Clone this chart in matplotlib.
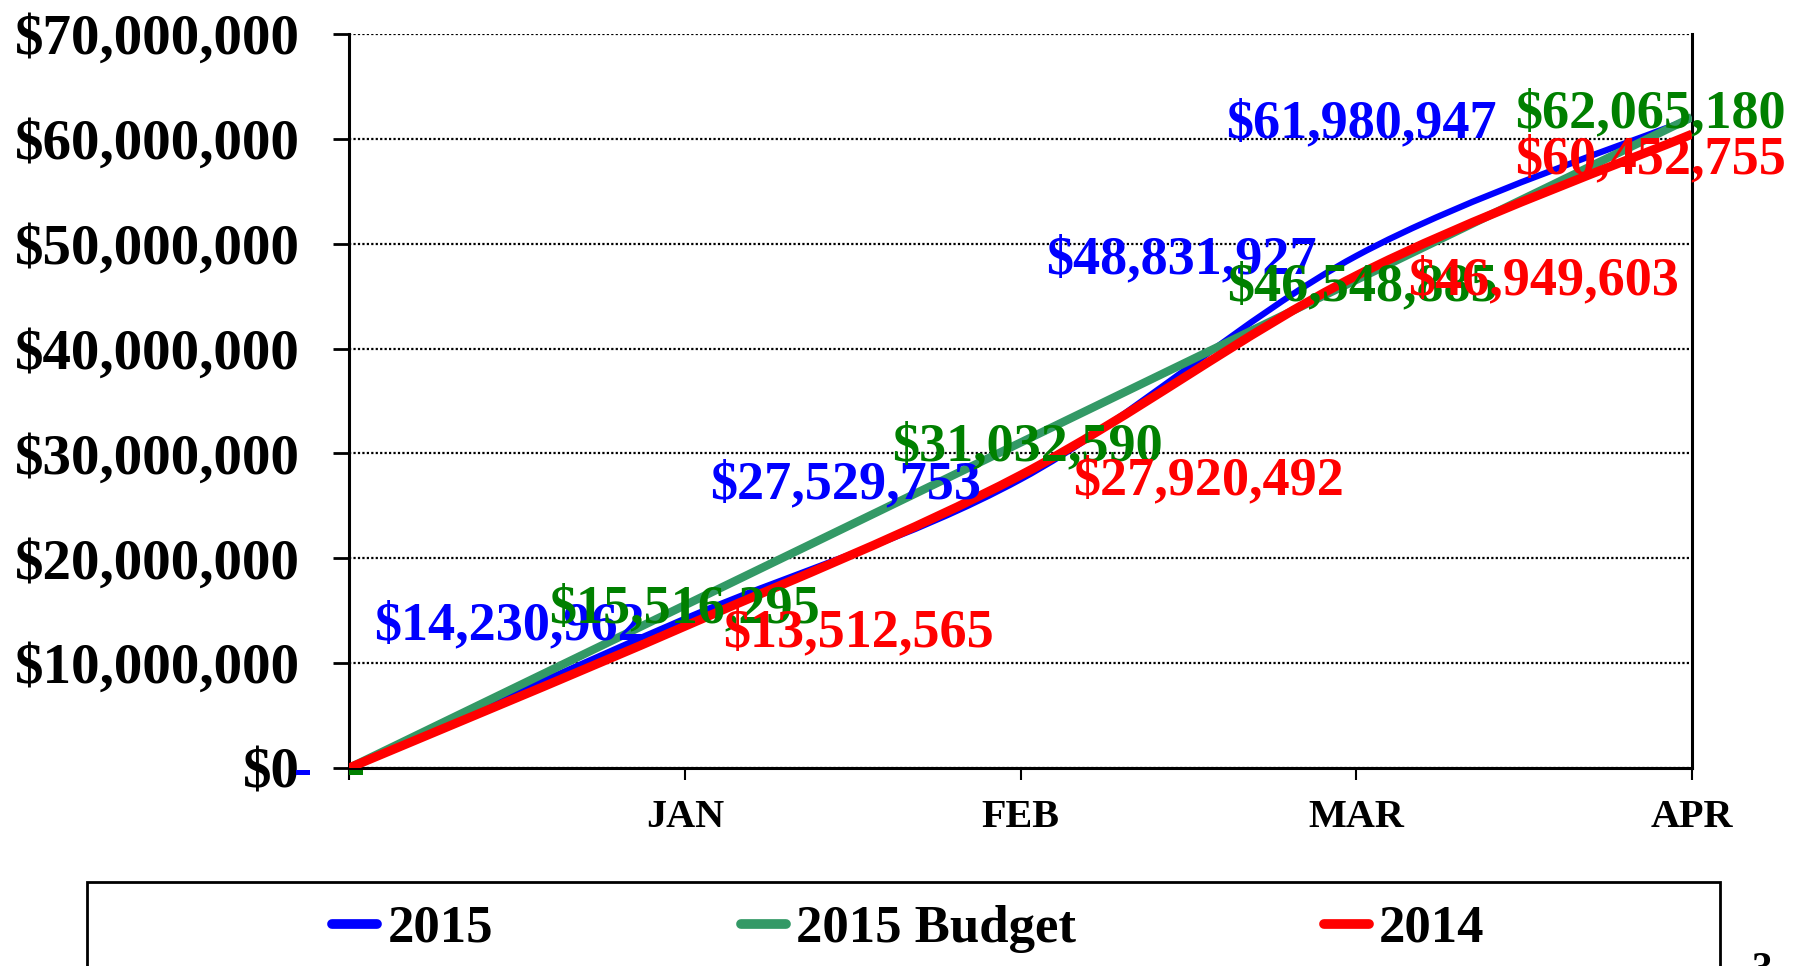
import matplotlib

matplotlib.use("Agg")
import matplotlib.pyplot as plt
import numpy as np
from matplotlib.lines import Line2D
from matplotlib.patches import PathPatch, Rectangle
from matplotlib.path import Path

plt.rcParams["font.family"] = ["Liberation Serif", "DejaVu Serif"]
plt.rcParams["font.weight"] = "bold"

# Cumulative revenue by month
months = ["", "JAN", "FEB", "MAR", "APR"]
actual_2015 = [0, 14230962, 27529753, 48831927, 61980947]
budget_2015 = [0, 15516295, 31032590, 46548885, 62065180]
actual_2014 = [0, 13512565, 27920492, 46949603, 60452755]
y_ticks = [0, 10000000, 20000000, 30000000, 40000000, 50000000, 60000000, 70000000]
y_tick_labels = ["$0", "$10,000,000", "$20,000,000", "$30,000,000",
                 "$40,000,000", "$50,000,000", "$60,000,000", "$70,000,000"]
series_names = ["2015", "2015 Budget", "2014"]

BLUE = "#0000FF"
SEA = "#339966"
GREEN = "#008000"
RED = "#FF0000"


def smooth_path(xs, ys):
    """Excel-style smoothed line as a chain of cubic Bezier segments."""
    pts = np.column_stack([xs, ys]).astype(float)
    n = len(pts)
    verts = [pts[0]]
    codes = [Path.MOVETO]
    for i in range(n - 1):
        p0 = pts[max(i - 1, 0)]
        p1 = pts[i]
        p2 = pts[i + 1]
        p3 = pts[min(i + 2, n - 1)]
        verts += [p1 + (p2 - p0) / 6, p2 - (p3 - p1) / 6, p2]
        codes += [Path.CURVE4] * 3
    return Path(verts, codes)


def label(ax, i, v, dx, dy, color, ha, z, text=None):
    if text is None:
        text = f"${v:,}"
    ax.annotate(text, xy=(i, v), xytext=(dx, dy), textcoords="offset pixels",
                ha=ha, va="baseline", fontsize=39, fontweight="bold",
                color=color, zorder=z, annotation_clip=False)


fig = plt.figure(figsize=(18.1, 9.66), dpi=100)
ax = fig.add_axes([349 / 1810, 198 / 966, 1343 / 1810, 734 / 966])

x = list(range(len(months)))
for vals, col, lw, z in [(actual_2015, BLUE, 4.5, 3),
                         (budget_2015, SEA, 6.0, 4),
                         (actual_2014, RED, 6.5, 5)]:
    patch = PathPatch(smooth_path(x, vals), fill=False, edgecolor=col, lw=lw,
                      capstyle="butt", joinstyle="round", zorder=z)
    ax.add_patch(patch)

ax.set_xlim(0, 4)
ax.set_ylim(0, 70000000)

# data labels
blue_off = [None, (-40, -21), (-39, -19), (-40, -17), (-195, -19)]
green_off = [None, (0, -17), (7, -18), (6, -20), (-42, -10)]
red_off = [None, (38, -20), (53, -19), (52, -19), (-42, -39)]
for i in range(1, 5):
    label(ax, i, actual_2015[i], *blue_off[i], BLUE, "right", 6)
for i in range(1, 5):
    label(ax, i, budget_2015[i], *green_off[i], GREEN, "center", 7)
for i in range(1, 4):
    label(ax, i, actual_2014[i], *red_off[i], RED, "left", 8)
label(ax, 4, actual_2014[4], *red_off[4], RED, "center", 8)
# zero labels shown as dashes
label(ax, 0, actual_2015[0], -46, -18, BLUE, "center", 6, text="-")
label(ax, 0, budget_2015[0], 7, -18, GREEN, "center", 7, text="-")

# axes styling
ax.set_yticks(y_ticks)
ax.set_yticklabels(y_tick_labels)
ax.set_xticks(x)
ax.set_xticklabels(months)
ax.tick_params(axis="y", direction="out", length=11.5, width=2, pad=24,
               labelsize=41)
ax.tick_params(axis="x", direction="out", length=8.6, width=1.5, pad=14,
               labelsize=29)
for lab in ax.get_xticklabels() + ax.get_yticklabels():
    lab.set_fontweight("bold")
ax.yaxis.grid(True, linestyle=(0, (1, 1)), color="black", lw=1.6)
ax.set_axisbelow(True)
ax.spines["top"].set_visible(False)
for s in ["left", "bottom", "right"]:
    ax.spines[s].set_linewidth(2.2)

# legend box (runs off the bottom of the page)
fig.patches.append(Rectangle((87 / 1810, -0.1), (1720 - 87) / 1810, 0.1 + 84 / 966,
                             transform=fig.transFigure, fill=False,
                             edgecolor="black", lw=2, clip_on=False))
handles = [Line2D([], [], color=c, lw=7, solid_capstyle="round")
           for c in [BLUE, SEA, RED]]
fig.legend(handles, series_names, loc="center left",
           bbox_to_anchor=(306 / 1810, 37 / 966), ncol=3, frameon=False,
           borderpad=0, handlelength=0.85, handletextpad=0.19,
           columnspacing=4.7, prop={"weight": "bold", "size": 38})

# page number
fig.text(1762 / 1810, 14 / 966, "3", ha="center", va="top", fontsize=30,
         fontweight="bold")

fig.savefig("out.png", dpi=100)
